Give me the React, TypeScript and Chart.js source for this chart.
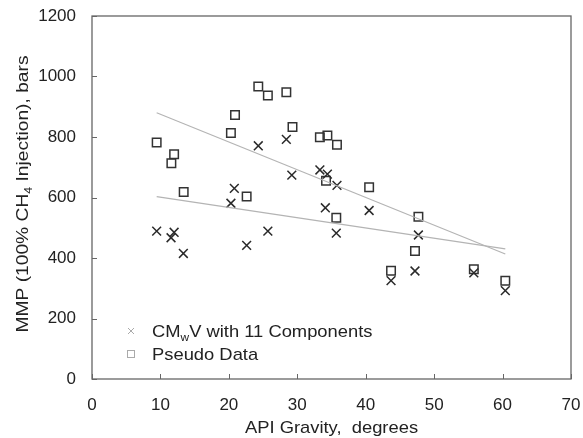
import { useEffect, useRef } from "react";
import { Chart, registerables } from "chart.js";

Chart.register(...registerables);

// ---- data ----
const cmwvApi = [9.45, 11.55, 12.0, 13.35, 20.3, 20.8, 22.6, 24.3, 25.7, 28.4, 29.2, 33.3, 34.1, 34.4, 35.7, 35.8, 40.5, 43.7, 47.2, 47.7, 55.8, 60.4];
const cmwvMmp = [489, 467, 485, 415, 581, 630, 442, 771, 489, 792, 674, 691, 566, 677, 482, 640, 557, 325, 357, 476, 351, 292];
const pseudoApi = [9.45, 11.6, 12.0, 13.4, 20.3, 20.9, 22.6, 24.3, 25.7, 28.4, 29.3, 33.3, 34.2, 34.4, 35.7, 35.8, 40.5, 43.7, 47.2, 47.7, 55.8, 60.4];
const pseudoMmp = [782, 713, 743, 618, 813, 873, 603, 967, 937, 948, 833, 799, 655, 805, 533, 774, 634, 358, 423, 536, 363, 325];
const trendApi = [9.45, 60.4];
const cmwvTrend = [603, 430];
const pseudoTrend = [880, 413];
const xTicks = [0, 10, 20, 30, 40, 50, 60, 70];
const yTicks = [0, 200, 400, 600, 800, 1000, 1200];
const xTitle = "API Gravity,  degrees";
const yTitleParts = ["MMP (100% CH", "4", " Injection), bars"];
const legendCmwv = ["CM", "w", "V with 11 Components"];
const legendPseudo = "Pseudo Data";

const FONT = '"Liberation Sans", Arial, sans-serif';
const TEXT = "#222";

const zip = (xs: number[], ys: number[]) => xs.map((x, i) => ({ x, y: ys[i] }));

function drawParts(ctx: CanvasRenderingContext2D, parts: string[], x: number, y: number, size: number, stretch: number) {
  ctx.save();
  ctx.translate(x, y);
  ctx.scale(stretch, 1);
  let cx = 0;
  parts.forEach((p, i) => {
    const sub = i % 2 === 1;
    ctx.font = `${sub ? Math.round(size * 0.62) : size}px ${FONT}`;
    ctx.fillText(p, cx, sub ? size * 0.22 : 0);
    cx += ctx.measureText(p).width;
  });
  ctx.restore();
}
function partsWidth(ctx: CanvasRenderingContext2D, parts: string[], size: number) {
  let w = 0;
  parts.forEach((p, i) => {
    ctx.font = `${i % 2 === 1 ? Math.round(size * 0.62) : size}px ${FONT}`;
    w += ctx.measureText(p).width;
  });
  return w;
}

const framePlugin = {
  id: "frame",
  beforeDatasetsDraw(chart: any) {
    const { ctx, chartArea: a, scales } = chart;
    ctx.save();
    ctx.strokeStyle = "#666";
    ctx.lineWidth = 1.3;
    ctx.strokeRect(a.left, a.top, a.right - a.left, a.bottom - a.top);
    ctx.lineWidth = 1;
    ctx.beginPath();
    xTicks.forEach((v) => {
      const px = Math.round(scales.x.getPixelForValue(v)) + 0.5;
      ctx.moveTo(px, a.bottom);
      ctx.lineTo(px, a.bottom - 5);
    });
    yTicks.forEach((v) => {
      const py = Math.round(scales.y.getPixelForValue(v)) + 0.5;
      ctx.moveTo(a.left, py);
      ctx.lineTo(a.left + 5, py);
    });
    ctx.stroke();
    ctx.restore();
  },
  afterDraw(chart: any) {
    const { ctx, chartArea: a } = chart;
    const size = 17;
    const stretch = 1.08;
    ctx.save();
    ctx.fillStyle = TEXT;
    ctx.textBaseline = "alphabetic";
    ctx.textAlign = "left";

    ctx.font = `${size}px ${FONT}`;
    const xw = ctx.measureText(xTitle).width * stretch;
    const cxMid = (a.left + a.right) / 2;
    drawParts(ctx, [xTitle], cxMid - xw / 2, 427 + size * 0.36, size, stretch);

    const yw = partsWidth(ctx, yTitleParts, size) * 1.13;
    ctx.save();
    ctx.translate(22 + size * 0.36, 194);
    ctx.rotate(-Math.PI / 2);
    drawParts(ctx, yTitleParts, -yw / 2, 0, size, 1.13);
    ctx.restore();

    const lx = 131;
    const y1 = 331;
    const y2 = 354;
    ctx.strokeStyle = "#aaa";
    ctx.lineWidth = 1;
    ctx.beginPath();
    ctx.moveTo(lx - 3, y1 - 3);
    ctx.lineTo(lx + 3, y1 + 3);
    ctx.moveTo(lx + 3, y1 - 3);
    ctx.lineTo(lx - 3, y1 + 3);
    ctx.stroke();
    ctx.strokeRect(lx - 3.5, y2 - 3.5, 7, 7);
    ctx.fillStyle = TEXT;
    drawParts(ctx, legendCmwv, 152, y1 + size * 0.36, size, stretch);
    drawParts(ctx, [legendPseudo], 152, y2 + size * 0.36, size, stretch);
    ctx.restore();
  },
};

const zeroPad = (s: any) => {
  s.paddingTop = 0;
  s.paddingBottom = 0;
  s.paddingLeft = 0;
  s.paddingRight = 0;
};

export default function App() {
  const ref = useRef<HTMLCanvasElement | null>(null);
  useEffect(() => {
    if (!ref.current) return;
    const chart = new Chart(ref.current, {
      type: "scatter",
      data: {
        datasets: [
          {
            label: "CMwV trend",
            type: "line",
            data: zip(trendApi, cmwvTrend),
            borderColor: "#b4b4b4",
            borderWidth: 1.2,
            pointRadius: 0,
            fill: false,
          },
          {
            label: "Pseudo trend",
            type: "line",
            data: zip(trendApi, pseudoTrend),
            borderColor: "#b4b4b4",
            borderWidth: 1.2,
            pointRadius: 0,
            fill: false,
          },
          {
            label: "CMwV with 11 Components",
            data: zip(cmwvApi, cmwvMmp),
            pointStyle: "crossRot",
            pointRadius: 6.2,
            borderColor: "#2a2a2a",
            borderWidth: 1.5,
            backgroundColor: "transparent",
          },
          {
            label: "Pseudo Data",
            data: zip(pseudoApi, pseudoMmp),
            pointStyle: "rect",
            pointRadius: 6,
            borderColor: "#333",
            borderWidth: 1.5,
            backgroundColor: "transparent",
          },
        ],
      },
      options: {
        responsive: false,
        animation: false,
        devicePixelRatio: 1,
        layout: { padding: { top: 16, right: 12, left: 0, bottom: 0 } },
        plugins: { legend: { display: false }, tooltip: { enabled: false } },
        scales: {
          x: {
            type: "linear",
            min: 0,
            max: 70,
            afterFit: (s: any) => {
              s.height = 59;
              zeroPad(s);
            },
            afterBuildTicks: (s: any) => {
              s.ticks = xTicks.map((v) => ({ value: v }));
            },
            grid: { display: false, drawTicks: false },
            border: { display: false },
            ticks: { padding: 16, color: TEXT, font: { family: FONT, size: 17 }, callback: (v: any) => String(v) },
          },
          y: {
            type: "linear",
            min: 0,
            max: 1200,
            afterFit: (s: any) => {
              s.width = 92;
              zeroPad(s);
            },
            afterBuildTicks: (s: any) => {
              s.ticks = yTicks.map((v) => ({ value: v }));
            },
            grid: { display: false, drawTicks: false },
            border: { display: false },
            ticks: { padding: 16, color: TEXT, font: { family: FONT, size: 17 }, callback: (v: any) => String(v) },
          },
        },
      },
      plugins: [framePlugin],
    } as any);
    return () => chart.destroy();
  }, []);
  return (
    <div style={{ position: "fixed", left: 0, top: 0, width: 583, height: 438, background: "#fff" }}>
      <canvas ref={ref} width={583} height={438} />
    </div>
  );
}
